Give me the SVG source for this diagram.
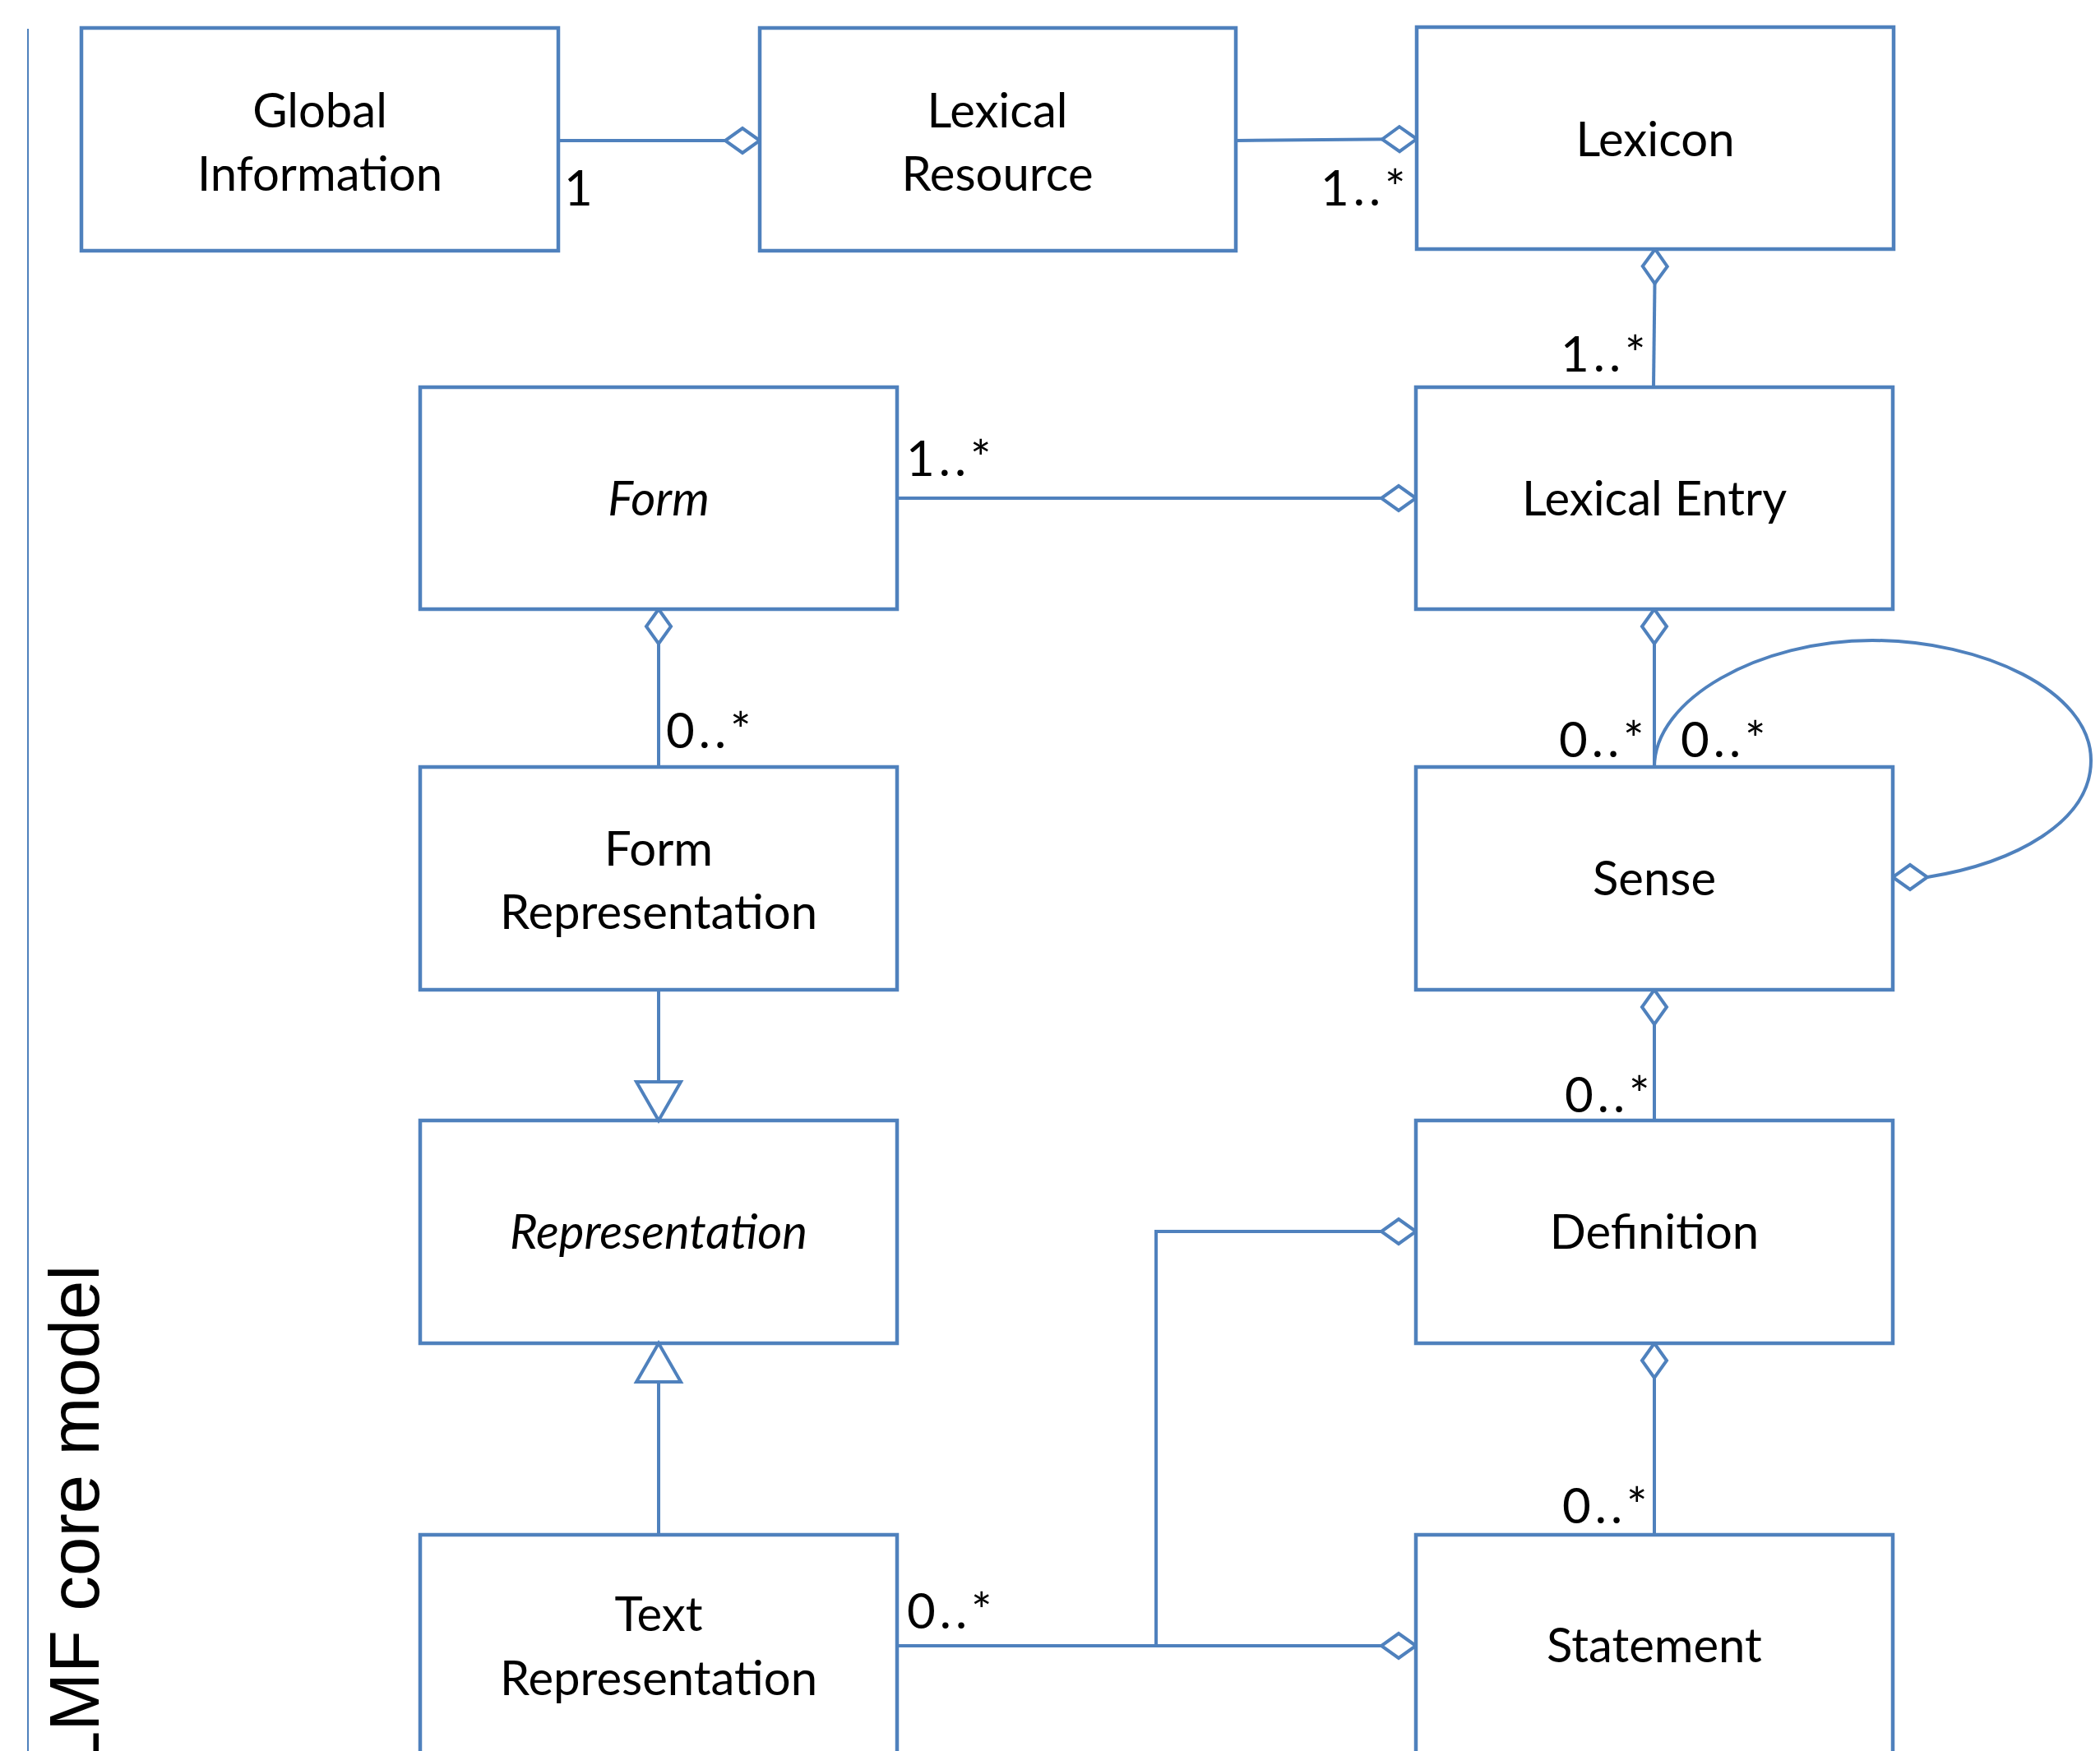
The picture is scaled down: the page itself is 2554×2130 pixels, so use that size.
<svg xmlns="http://www.w3.org/2000/svg" width="2554" height="2130" viewBox="0 0 2554 2130">
<style>
.box{fill:#fff;stroke:#4F81BD;stroke-width:4.5}
.t{font-family:Lato,"Open Sans",sans-serif;font-size:58px;fill:#000;text-anchor:middle}
.i{font-style:italic}
.lbl{font-family:Lato,"Open Sans",sans-serif;font-size:60px;fill:#000;letter-spacing:5px}
.c{fill:none;stroke:#4F81BD;stroke-width:4}
.agg{marker-end:url(#dia)}
.gen{marker-end:url(#tri)}
</style>
<defs>
<marker id="dia" viewBox="-46 -18 48 36" refX="0" refY="0" markerWidth="48" markerHeight="36" markerUnits="userSpaceOnUse" orient="auto">
<path d="M0,0 L-21,-15 L-42,0 L-21,15 Z" fill="#fff" stroke="#4F81BD" stroke-width="4"/>
</marker>
<marker id="tri" viewBox="-52 -32 56 64" refX="0" refY="0" markerWidth="56" markerHeight="64" markerUnits="userSpaceOnUse" orient="auto">
<path d="M0,0 L-47,-27 L-47,27 Z" fill="#fff" stroke="#4F81BD" stroke-width="4"/>
</marker>
</defs>
<rect width="2554" height="2130" fill="#fff"/>
<line x1="34" y1="35" x2="34" y2="2130" stroke="#4F81BD" stroke-width="2"/>
<text transform="translate(120,2153) rotate(-90)" style="font-family:'Liberation Sans',Arial,sans-serif;font-size:85px;fill:#000">LMF core model</text>

<g id="nodes">
<g id="global-information"><rect class="box" x="99" y="34" width="580" height="271"/><text class="t" x="389" y="155">Global</text><text class="t" x="389" y="232">Information</text></g>
<g id="lexical-resource"><rect class="box" x="924" y="34" width="579" height="271"/><text class="t" x="1213" y="155">Lexical</text><text class="t" x="1213" y="232">Resource</text></g>
<g id="lexicon"><rect class="box" x="1723" y="33" width="580" height="270"/><text class="t" x="2013" y="190">Lexicon</text></g>
<g id="form"><rect class="box" x="511" y="471" width="580" height="270"/><text class="t i" x="801" y="627">Form</text></g>
<g id="lexical-entry"><rect class="box" x="1722" y="471" width="580" height="270"/><text class="t" x="2012" y="627">Lexical Entry</text></g>
<g id="form-representation"><rect class="box" x="511" y="933" width="580" height="271"/><text class="t" x="801" y="1053">Form</text><text class="t" x="801" y="1130">Representation</text></g>
<g id="sense"><rect class="box" x="1722" y="933" width="580" height="271"/><text class="t" x="2012" y="1089">Sense</text></g>
<g id="representation"><rect class="box" x="511" y="1363" width="580" height="271"/><text class="t i" x="801" y="1519">Representation</text></g>
<g id="definition"><rect class="box" x="1722" y="1363" width="580" height="271"/><text class="t" x="2012" y="1519">Definition</text></g>
<g id="text-representation"><rect class="box" x="511" y="1867" width="580" height="290"/><text class="t" x="801" y="1984">Text</text><text class="t" x="801" y="2062">Representation</text></g>
<g id="statement"><rect class="box" x="1722" y="1867" width="580" height="290"/><text class="t" x="2012" y="2022">Statement</text></g>
</g>

<g id="connectors">
<path class="c agg" d="M679,171 L924,171"/>
<path class="c agg" d="M1503,171 L1723,169"/>
<path class="c agg" d="M2011,471 L2013,303"/>
<path class="c agg" d="M1091,606 L1722,606"/>
<path class="c agg" d="M801,933 L801,741"/>
<path class="c gen" d="M801,1204 L801,1363"/>
<path class="c gen" d="M801,1867 L801,1634"/>
<path class="c agg" d="M2012,933 L2012,741"/>
<path class="c agg" d="M2012,933 C2012,850 2140,779 2277,779 C2410,779 2543,840 2543,925 C2543,1000 2450,1050 2344,1067 L2302,1067"/>
<path class="c agg" d="M2012,1363 L2012,1204"/>
<path class="c agg" d="M2012,1867 L2012,1634"/>
<path class="c agg" d="M1091,2002 L1722,2002"/>
<path class="c agg" d="M1406,2002 L1406,1498 L1722,1498"/>
</g>

<g id="labels">
<text class="lbl" x="686" y="250">1</text>
<text class="lbl" x="1606" y="250">1..*</text>
<text class="lbl" x="1898" y="452">1..*</text>
<text class="lbl" x="1102" y="579">1..*</text>
<text class="lbl" x="810" y="910">0..*</text>
<text class="lbl" x="1896" y="921">0..*</text>
<text class="lbl" x="2044" y="921">0..*</text>
<text class="lbl" x="1903" y="1353">0..*</text>
<text class="lbl" x="1900" y="1853">0..*</text>
<text class="lbl" x="1103" y="1981">0..*</text>
</g>
</svg>
